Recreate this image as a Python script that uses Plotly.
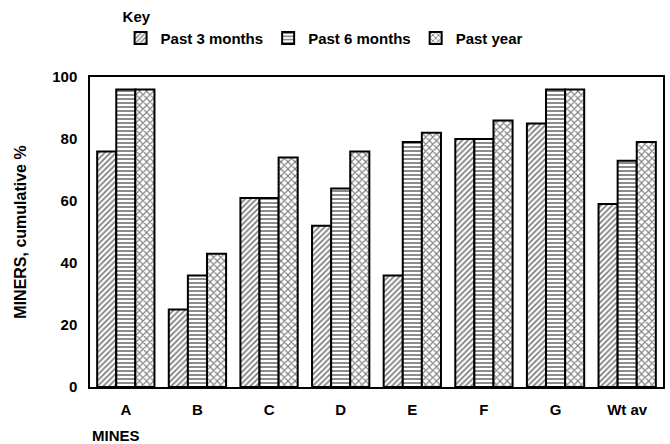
import plotly.graph_objects as go

mines = ["A", "B", "C", "D", "E", "F", "G", "Wt av"]
past_3_months = [76, 25, 61, 52, 36, 80, 85, 59]
past_6_months = [96, 36, 61, 64, 79, 80, 96, 73]
past_year = [96, 43, 74, 76, 82, 86, 96, 79]

font_main = "Liberation Sans"

fig = go.Figure()

series = [
    ("Past 3 months", past_3_months, "/", 4, 0.45),
    ("Past 6 months", past_6_months, "-", 4, 0.45),
    ("Past year", past_year, "x", 5, 0.4),
]
for name, vals, shape, psize, sol in series:
    fig.add_trace(go.Bar(
        x=mines, y=vals, name=name,
        marker=dict(
            color="white",
            line=dict(color="black", width=2),
            pattern=dict(shape=shape, fgcolor="black", bgcolor="white",
                         size=psize, solidity=sol),
        ),
    ))

fig.update_layout(
    width=670, height=444,
    margin=dict(l=90, r=7, t=77, b=57, autoexpand=False),
    paper_bgcolor="white",
    plot_bgcolor="white",
    barmode="group",
    bargap=0.2,
    bargroupgap=0,
    font=dict(family=font_main, size=14, color="black", weight="bold"),
    showlegend=True,
    legend=dict(
        title=dict(text="Key", side="top", font=dict(size=15, weight="bold")),
        orientation="h",
        xref="container", yref="container",
        x=0.18, xanchor="left",
        y=0.995, yanchor="top",
        font=dict(size=15, weight="bold"),
        itemwidth=30,
        bgcolor="rgba(0,0,0,0)",
    ),
    xaxis=dict(
        showline=True, linecolor="black", linewidth=1.5, mirror=True,
        ticks="", tickfont=dict(size=15, weight="bold"),
        ticklabelstandoff=8,
    ),
    yaxis=dict(
        range=[0, 100], dtick=20,
        showline=True, linecolor="black", linewidth=1.5, mirror=True,
        showgrid=False, zeroline=False, ticks="",
        tickfont=dict(size=15, weight="bold"),
        ticklabelstandoff=8,
        title=dict(text="MINERS, cumulative %", standoff=22,
                   font=dict(size=16, weight="bold")),
    ),
)

fig.add_annotation(
    text="MINES", x=0.0, y=-0.155, xref="paper", yref="paper",
    xanchor="left", yanchor="middle", showarrow=False,
    font=dict(size=15, weight="bold"),
)

fig.write_html("out.html", config={"displayModeBar": False},
               post_script="document.body.style.margin='0';")
